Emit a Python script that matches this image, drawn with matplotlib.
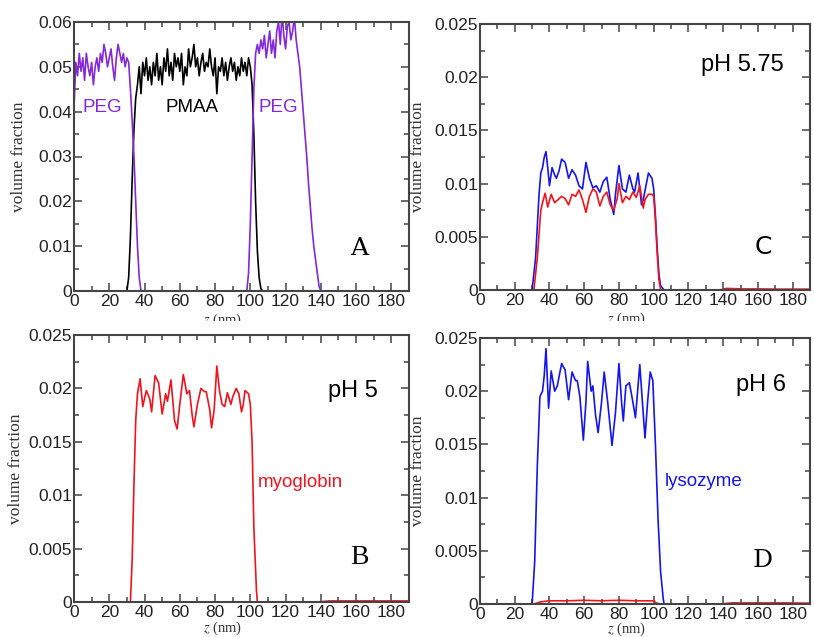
import numpy as np
import matplotlib
matplotlib.use('Agg')
import matplotlib.pyplot as plt
from matplotlib.ticker import MultipleLocator, FuncFormatter
from matplotlib.transforms import Bbox

# panel A: polymer profiles, 1 nm grid
peg1_z = np.arange(0, 39)
peg1_v = [0.041, 0.051, 0.048, 0.053, 0.049, 0.052, 0.047, 0.053, 0.050, 0.048,
          0.051, 0.046, 0.050, 0.052, 0.049, 0.053, 0.051, 0.055, 0.053, 0.050,
          0.052, 0.054, 0.050, 0.047, 0.052, 0.055, 0.053, 0.051, 0.053, 0.050,
          0.052, 0.051, 0.045, 0.038, 0.030, 0.020, 0.010, 0.003, 0.0]

pmaa_z = np.arange(30, 108)
pmaa_v = [0.0, 0.003, 0.012, 0.025, 0.036, 0.043, 0.046, 0.050, 0.044, 0.051,
          0.048, 0.052, 0.047, 0.050, 0.046, 0.051, 0.048, 0.053, 0.047, 0.050,
          0.046, 0.052, 0.049, 0.054, 0.048, 0.051, 0.047, 0.053, 0.050, 0.052,
          0.049, 0.053, 0.046, 0.050, 0.048, 0.054, 0.050, 0.052, 0.055, 0.050,
          0.052, 0.048, 0.051, 0.053, 0.049, 0.051, 0.050, 0.054, 0.050, 0.048,
          0.052, 0.044, 0.050, 0.049, 0.052, 0.048, 0.051, 0.047, 0.050, 0.052,
          0.049, 0.051, 0.047, 0.050, 0.048, 0.052, 0.049, 0.051, 0.048, 0.052,
          0.050, 0.046, 0.035, 0.020, 0.009, 0.003, 0.0005, 0.0]

peg2_z = np.arange(98, 141)
peg2_v = [0.0, 0.004, 0.015, 0.030, 0.045, 0.053, 0.055, 0.053, 0.056, 0.054,
          0.057, 0.052, 0.055, 0.058, 0.053, 0.056, 0.052, 0.058, 0.060, 0.055,
          0.062, 0.057, 0.054, 0.059, 0.060, 0.056, 0.058, 0.061, 0.056, 0.053,
          0.050, 0.045, 0.040, 0.035, 0.030, 0.024, 0.019, 0.014, 0.010, 0.007,
          0.004, 0.001, 0.0]

# panel C: pH 5.75
blue_c_z = [0, 30, 32, 34, 35, 36, 37, 38, 39, 40, 41.5, 43, 44, 45.5, 47, 49, 51, 53, 55, 57,
            59, 61, 63, 65, 67, 69, 71, 73, 75, 77, 78, 80, 82, 84, 86, 88, 89, 91, 93, 94,
            97, 99, 100, 101, 102, 103, 104, 106, 190]
blue_c_v = [0, 0, 0.003, 0.009, 0.011, 0.0115, 0.0125, 0.013, 0.0115, 0.0098,
            0.0115, 0.0108, 0.0105, 0.0112, 0.0123, 0.012, 0.0105, 0.0113, 0.0108, 0.0098,
            0.0095, 0.012, 0.0105, 0.0096, 0.0098, 0.0092, 0.0102, 0.0106, 0.0085, 0.0071,
            0.009, 0.0117, 0.0095, 0.0092, 0.0108, 0.0095, 0.0092, 0.011, 0.008, 0.0085,
            0.011, 0.0105, 0.0095, 0.007, 0.004, 0.0015, 0.0004, 0, 0]
red_c_z = [0, 31, 33, 35, 36, 37.5, 39, 41, 43, 45, 47, 49, 51, 53, 55, 57, 59, 61, 63, 65,
           67, 69, 71, 73, 75, 77, 79, 80, 82, 84, 86, 88, 90, 92, 94, 95, 97, 99, 100, 101,
           102, 103, 104, 138, 142, 150, 160, 170, 180, 190]
red_c_v = [0, 0, 0.003, 0.0075, 0.0082, 0.0091, 0.0078, 0.009, 0.0082, 0.0085,
           0.0088, 0.0086, 0.008, 0.009, 0.0088, 0.0094, 0.0085, 0.0073, 0.0088, 0.0095,
           0.0092, 0.0079, 0.0088, 0.0092, 0.008, 0.0075, 0.0086, 0.01, 0.0082, 0.0088,
           0.0085, 0.0092, 0.0087, 0.0098, 0.0077, 0.0085, 0.009, 0.009, 0.0088, 0.0065,
           0.0035, 0.001, 0, 0, 0.00015, 0.0001, 0.0001, 0.00008, 0.00008, 0.00008]

# panel B: pH 5, myoglobin
red_b_z = [0, 32, 33, 34, 35, 36, 37.5, 39, 41, 43, 44, 46, 48, 50, 52, 53, 55, 57, 58.5, 60,
           62, 64, 65.5, 67, 68, 70, 72, 74, 75, 77, 78, 79.5, 81, 82.5, 84, 85.5, 87, 89, 90, 92,
           93.5, 95, 96, 97, 99, 100, 101, 102, 103.5, 104, 138, 145, 160, 175, 190]
red_b_v = [0, 0, 0.004, 0.011, 0.017, 0.0195, 0.0209, 0.0183, 0.0198, 0.019,
           0.0178, 0.0212, 0.0205, 0.0176, 0.0195, 0.0188, 0.0208, 0.017, 0.0162, 0.0185,
           0.0213, 0.0195, 0.0198, 0.0175, 0.0164, 0.0185, 0.02, 0.0197, 0.0197, 0.018,
           0.0163, 0.018, 0.0221, 0.0198, 0.0185, 0.0183, 0.0196, 0.0185, 0.0192, 0.02,
           0.0195, 0.0178, 0.0185, 0.0198, 0.0195, 0.0185, 0.015, 0.007, 0.001, 0,
           0, 0.0001, 0.0001, 0.0001, 0.0001]

# panel D: pH 6, lysozyme
blue_d_z = [0, 30, 31.5, 33, 34.5, 36, 37, 38, 39.5, 41, 43, 44.5, 47, 49, 51, 53, 55, 56, 57.5, 59.5,
            61, 62, 64, 65, 66.5, 68, 70, 71.5, 73.5, 76, 78, 80, 81.5, 82.5, 84, 86, 88, 89.5, 92, 93.5,
            95, 96.5, 98, 99.5, 101, 102.5, 104, 105.5, 106, 190]
blue_d_v = [0, 0, 0.004, 0.013, 0.0195, 0.020, 0.0215, 0.024, 0.0184, 0.0219,
            0.020, 0.0205, 0.0226, 0.022, 0.0192, 0.0218, 0.021, 0.021, 0.0195, 0.0154,
            0.019, 0.0228, 0.020, 0.0205, 0.0178, 0.0161, 0.019, 0.0218, 0.019, 0.0149,
            0.018, 0.0226, 0.019, 0.0172, 0.0205, 0.0208, 0.019, 0.0175, 0.0225, 0.019,
            0.0156, 0.019, 0.0218, 0.021, 0.015, 0.008, 0.003, 0.0005, 0, 0]
red_d_z = [0, 31, 35, 40, 50, 60, 70, 80, 90, 100, 101, 103, 138, 145, 160, 175, 190]
red_d_v = [0, 0, 0.0002, 0.0003, 0.0003, 0.00035, 0.0003, 0.00035, 0.0003, 0.0003,
           0.00015, 0, 0, 0.0001, 0.0001, 0.0001, 0.00008]

purple = '#8428d8'
red = '#f0141e'
blue = '#1515f0'

plt.rcParams['font.family'] = 'Liberation Sans'
plt.rcParams['mathtext.fontset'] = 'stix'

fig = plt.figure(figsize=(8.14, 6.37), dpi=100)
W, H = 814, 637


def make_axes(left, top, right, bottom):
    return fig.add_axes([left / W, 1 - bottom / H, (right - left) / W, (bottom - top) / H])


def style(ax, ymax, ystep, ylab_x, xlab_y, clip=False):
    ax.set_xlim(0, 190)
    ax.set_ylim(0, ymax)
    ax.xaxis.set_major_locator(MultipleLocator(20))
    ax.xaxis.set_minor_locator(MultipleLocator(10))
    ax.yaxis.set_major_locator(MultipleLocator(ystep))
    ax.yaxis.set_minor_locator(MultipleLocator(ystep / 2))
    ax.yaxis.set_major_formatter(FuncFormatter(lambda v, p: '%g' % round(v, 4)))
    ax.tick_params(which='both', direction='in', top=True, right=True,
                   color='#444444', labelcolor='#222222', labelsize=12.5, width=1.1)
    ax.tick_params(which='major', length=6)
    ax.tick_params(which='minor', length=3.5)
    ax.tick_params(axis='y', pad=1.5)
    ax.tick_params(axis='x', pad=2)
    for s in ax.spines.values():
        s.set_linewidth(1.5)
        s.set_color('#444444')
    ax.set_ylabel('volume fraction', family='Liberation Serif', fontsize=12.5, color='#333333')
    ax.yaxis.set_label_coords(ylab_x, 0.5)
    ax.set_xlabel(r'$z$ (nm)', family='Liberation Serif', fontsize=10.5, color='#333333')
    ax.xaxis.set_label_coords(0.445, xlab_y)
    ax.xaxis.label.set_va('center')
    if clip:
        ax.xaxis.label.set_clip_on(True)
        ax.xaxis.label.set_clip_box(Bbox.from_extents(0, H - 321, W, H))


axA = make_axes(74, 22, 409, 291)
axC = make_axes(480, 24, 810, 290)
axB = make_axes(74, 335, 409, 602)
axD = make_axes(480, 338, 810, 604)

style(axA, 0.06, 0.01, -0.14, -0.11, clip=True)
style(axC, 0.025, 0.005, -0.165, -0.11, clip=True)
style(axB, 0.025, 0.005, -0.15, -0.097)
style(axD, 0.025, 0.005, -0.165, -0.096)

lw = 1.2
axA.plot(pmaa_z, pmaa_v, color='black', lw=lw)
axA.plot(peg1_z, peg1_v, color=purple, lw=lw)
axA.plot(peg2_z, peg2_v, color=purple, lw=lw)
axA.text(5, 0.041, 'PEG', color=purple, fontsize=13.5, va='center')
axA.text(67, 0.041, 'PMAA', color='black', fontsize=13.5, va='center', ha='center')
axA.text(116, 0.041, 'PEG', color=purple, fontsize=13.5, va='center', ha='center')
axA.text(162, 0.0095, 'A', family='DejaVu Serif', fontsize=18, ha='center', va='center')

axC.plot(blue_c_z, blue_c_v, color=blue, lw=lw)
axC.plot(red_c_z, red_c_v, color=red, lw=lw)
axC.text(151, 0.0211, 'pH 5.75', fontsize=17, ha='center', va='center')
axC.text(163, 0.004, 'C', family='DejaVu Sans', fontsize=18, ha='center', va='center')

axB.plot(red_b_z, red_b_v, color=red, lw=lw)
axB.text(158, 0.0198, 'pH 5', fontsize=17, ha='center', va='center')
axB.text(104, 0.0112, 'myoglobin', color=red, fontsize=13.5, va='center')
axB.text(162, 0.0042, 'B', family='Liberation Serif', fontsize=20, ha='center', va='center')

axD.plot(red_d_z, red_d_v, color=red, lw=lw)
axD.plot(blue_d_z, blue_d_v, color=blue, lw=lw)
axD.text(162, 0.0206, 'pH 6', fontsize=17, ha='center', va='center')
axD.text(106.5, 0.0115, 'lysozyme', color=blue, fontsize=13.5, va='center')
axD.text(163, 0.0041, 'D', family='DejaVu Serif', fontsize=18, ha='center', va='center')

fig.savefig('out.png', dpi=100)
